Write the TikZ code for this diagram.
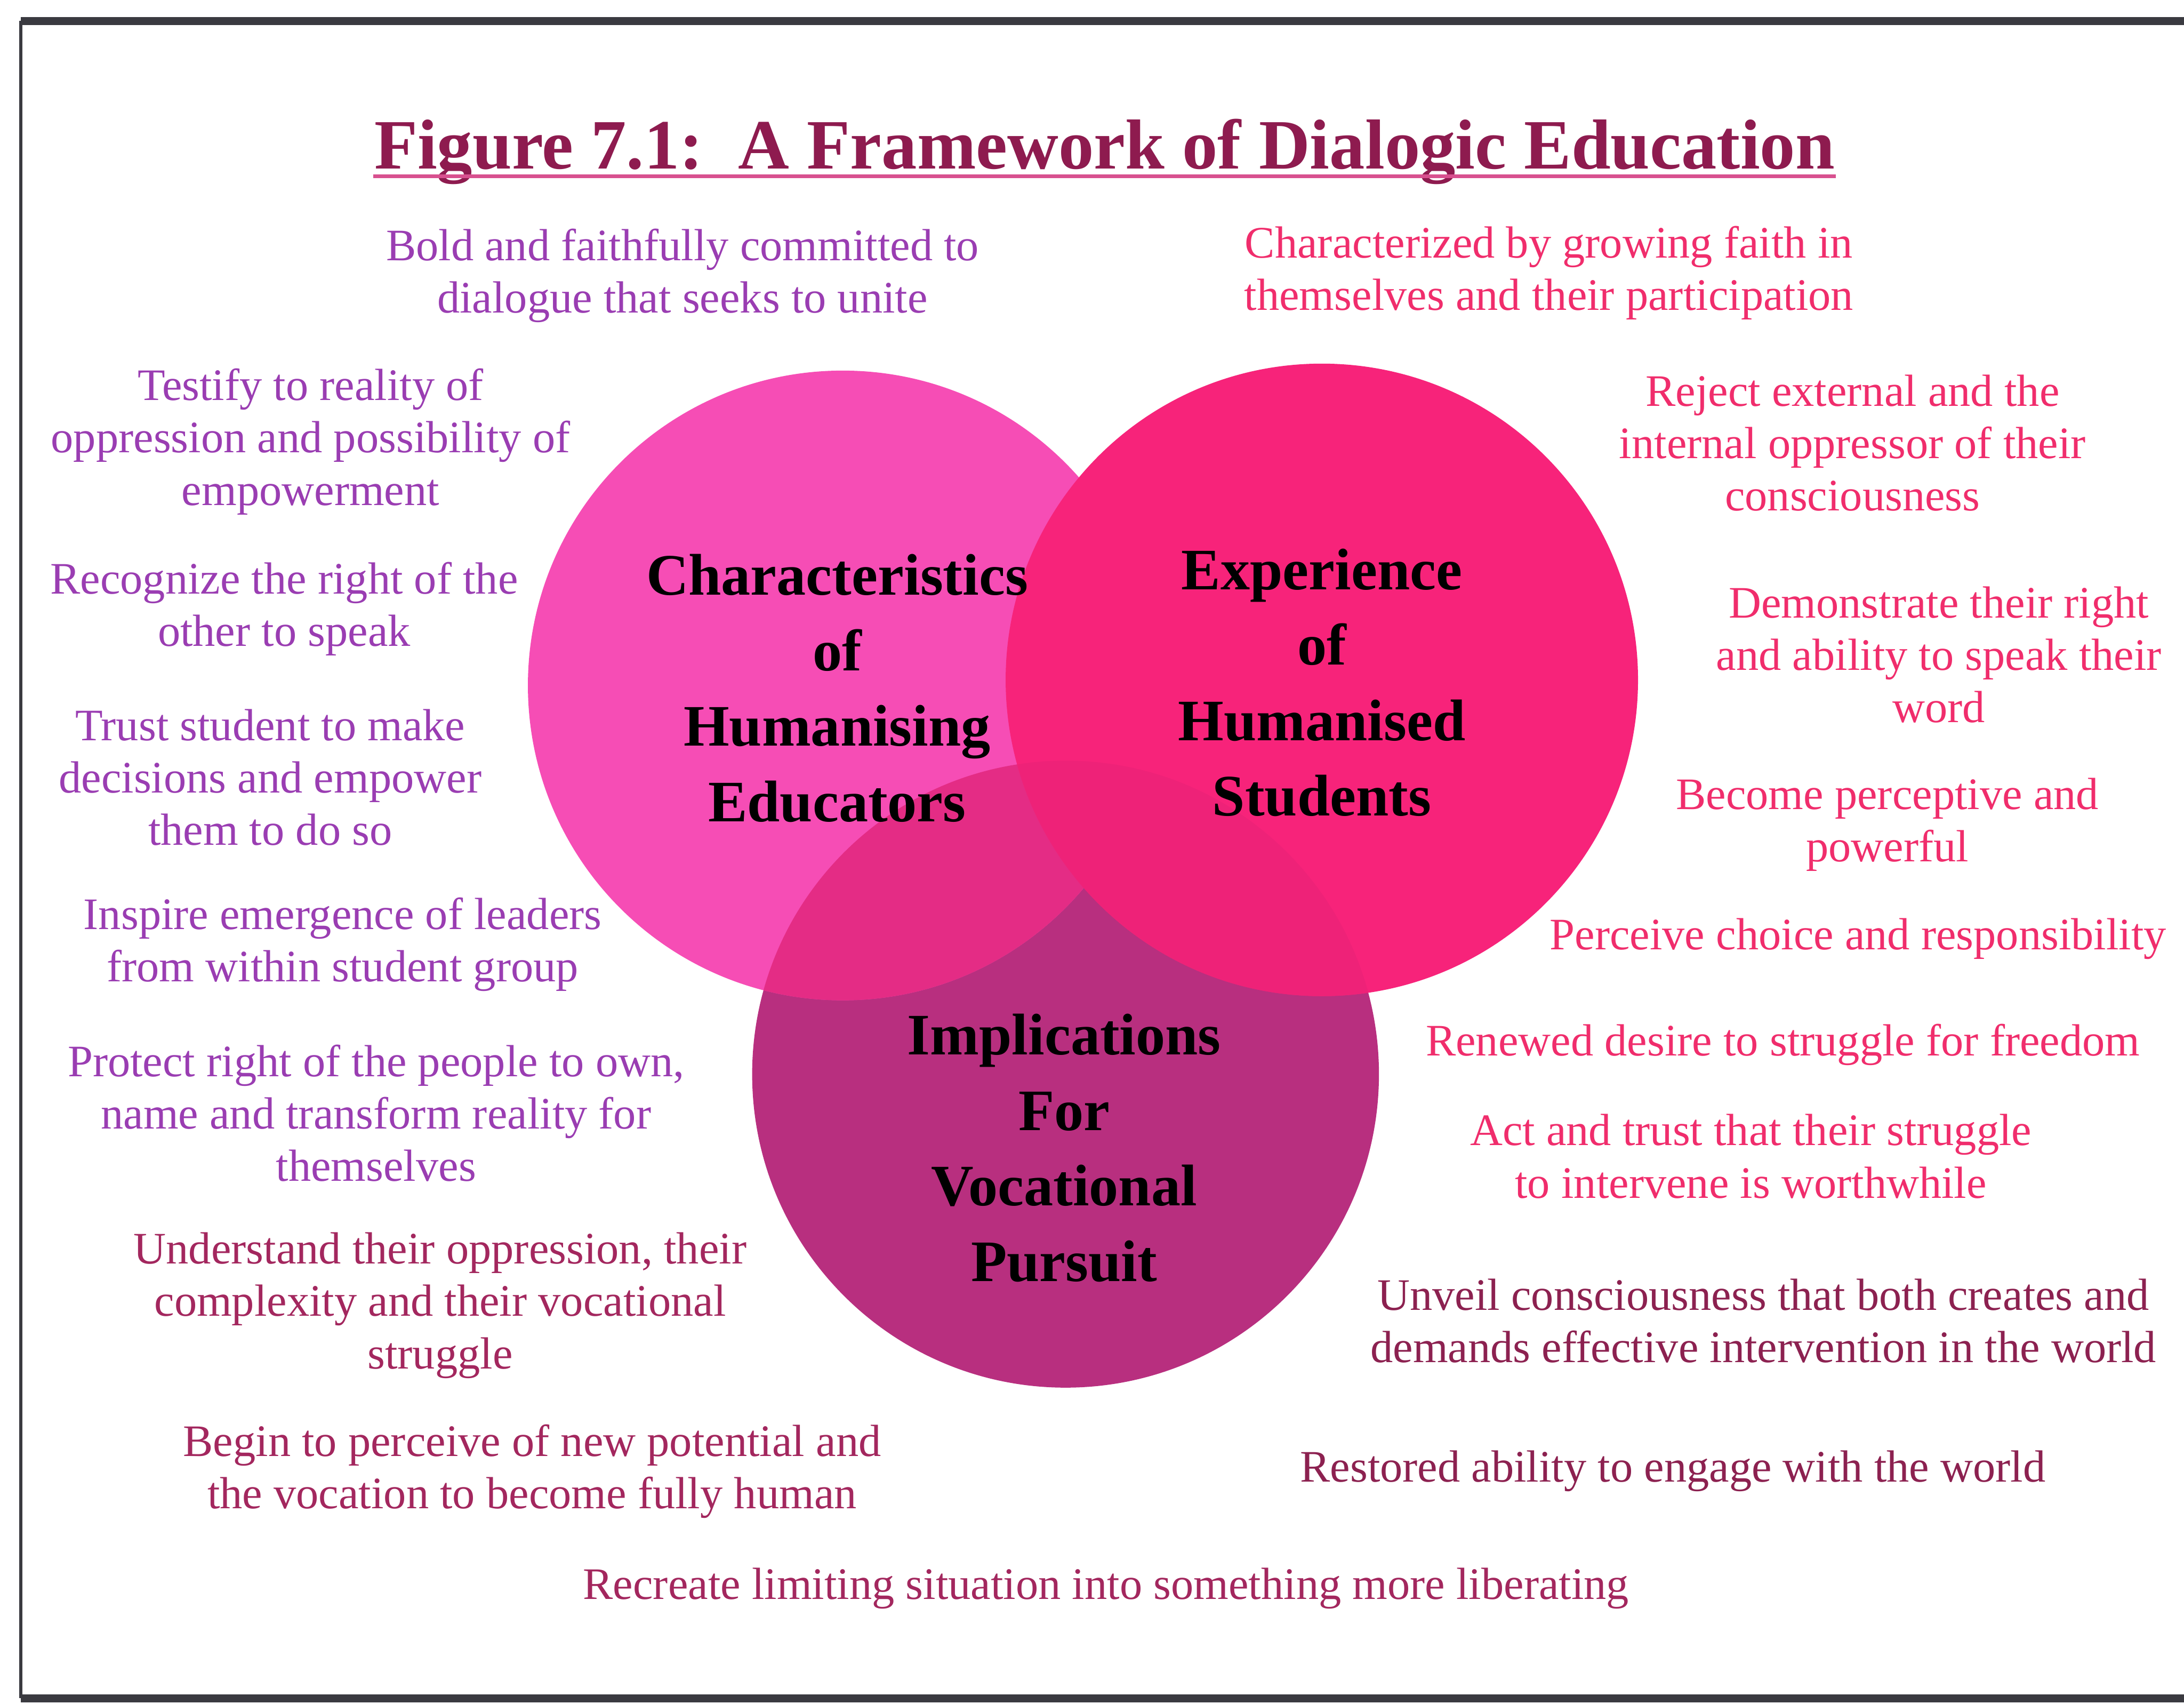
\documentclass[tikz,border=0pt]{standalone}
\usepackage{fontspec}
\setmainfont{Liberation Serif}
\usepackage{xcolor}
\usepackage{tikz}

\definecolor{eduPink}{HTML}{F64DB5}
\definecolor{stuPink}{HTML}{F7237A}
\definecolor{vocPlum}{HTML}{B82F7F}
\definecolor{eduVoc}{HTML}{E42C85}
\definecolor{stuVoc}{HTML}{EE2278}
\definecolor{titleRed}{HTML}{8E1B4F}
\definecolor{rulePink}{HTML}{D8508F}
\definecolor{eduText}{HTML}{9A3DB2}
\definecolor{stuText}{HTML}{F02D6C}
\definecolor{plumText}{HTML}{A3275E}
\definecolor{wineText}{HTML}{8C2150}
\definecolor{frameGray}{HTML}{3A3A40}

\begin{document}
\begin{tikzpicture}[
    note/.style={align=center,inner sep=0pt,font=\fontsize{9.2}{10.7}\selectfont},
    hub/.style={align=center,inner sep=0pt,text=black,font=\fontsize{12}{15.4}\selectfont\bfseries}]

			\useasboundingbox (0,0) rectangle (15.68,12.23);

			% frame, open on the right
			\draw[frameGray,line width=1.6pt] (15.68,12.08) -- (0.15,12.08);
			\draw[frameGray,line width=0.7pt] (0.15,12.08) -- (0.15,0.04);
			\draw[frameGray,line width=1.6pt] (0.15,0.04) -- (15.68,0.04);

			% title
			\node[anchor=base,inner sep=0pt,text=titleRed,font=\fontsize{14.45}{18}\selectfont\bfseries] (title) at (7.93,11.02) {Figure 7.1:\ \ A Framework of Dialogic Education};
			\draw[rulePink,line width=0.8pt] ([yshift=-1.6pt]title.base west) -- ([yshift=-1.6pt]title.base east);

			% the three circles
			\coordinate (E) at (6.05,7.31);
			\coordinate (S) at (9.49,7.35);
			\coordinate (V) at (7.65,4.52);

			\fill[vocPlum] (V) circle (2.25);
			\fill[eduPink] (E) circle (2.26);
			\begin{scope}
				\clip (V) circle (2.25);
				\fill[eduVoc] (E) circle (2.26);
			\end{scope}
			\fill[stuPink] (S) circle (2.27);
			\begin{scope}
				\clip (V) circle (2.25);
				\fill[stuVoc] (S) circle (2.27);
			\end{scope}

			\node[hub] (edu) at (6.01,7.29) {Characteristics\\of\\Humanising\\Educators};
			\node[hub] (stu) at (9.49,7.33) {Experience\\of\\Humanised\\Students};
			\node[hub] (voc) at (7.64,3.99) {Implications\\For\\Vocational\\Pursuit};

			% educators' side
			\node[note,text=eduText] (l1) at (4.90,10.25) {Bold and faithfully committed to\\dialogue that seeks to unite};
			\node[note,text=eduText] (l2) at (2.23,9.06) {Testify to reality of\\oppression and possibility of\\empowerment};
			\node[note,text=eduText] (l3) at (2.04,7.86) {Recognize the right of the\\other to speak};
			\node[note,text=eduText] (l4) at (1.94,6.65) {Trust student to make\\decisions and empower\\them to do so};
			\node[note,text=eduText] (l5) at (2.46,5.45) {Inspire emergence of leaders\\from within student group};
			\node[note,text=eduText] (l6) at (2.70,4.24) {Protect right of the people to own,\\name and transform reality for\\themselves};
			\node[note,text=plumText] (l7) at (3.16,2.86) {Understand their oppression, their\\complexity and their vocational\\struggle};
			\node[note,text=plumText] (l8) at (3.82,1.67) {Begin to perceive of new potential and\\the vocation to become fully human};
			\node[note,text=plumText] (l9) at (7.94,0.83) {Recreate limiting situation into something more liberating};

			% students' side
			\node[note,text=stuText] (r1) at (11.12,10.27) {Characterized by growing faith in\\themselves and their participation};
			\node[note,text=stuText] (r2) at (13.30,9.05) {Reject external and the\\internal oppressor of their\\consciousness};
			\node[note,text=stuText] (r3) at (13.92,7.53) {Demonstrate their right\\and ability to speak their\\word};
			\node[note,text=stuText] (r4) at (13.55,6.31) {Become perceptive and\\powerful};
			\node[note,text=stuText] (r5) at (13.34,5.49) {Perceive choice and responsibility};
			\node[note,text=stuText] (r6) at (12.80,4.73) {Renewed desire to struggle for freedom};
			\node[note,text=stuText] (r7) at (12.57,3.93) {Act and trust that their struggle\\to intervene is worthwhile};
			\node[note,text=wineText] (r8) at (12.66,2.75) {Unveil consciousness that both creates and\\demands effective intervention in the world};
			\node[note,text=wineText] (r9) at (12.01,1.67) {Restored ability to engage with the world};

		\end{tikzpicture}
\end{document}
